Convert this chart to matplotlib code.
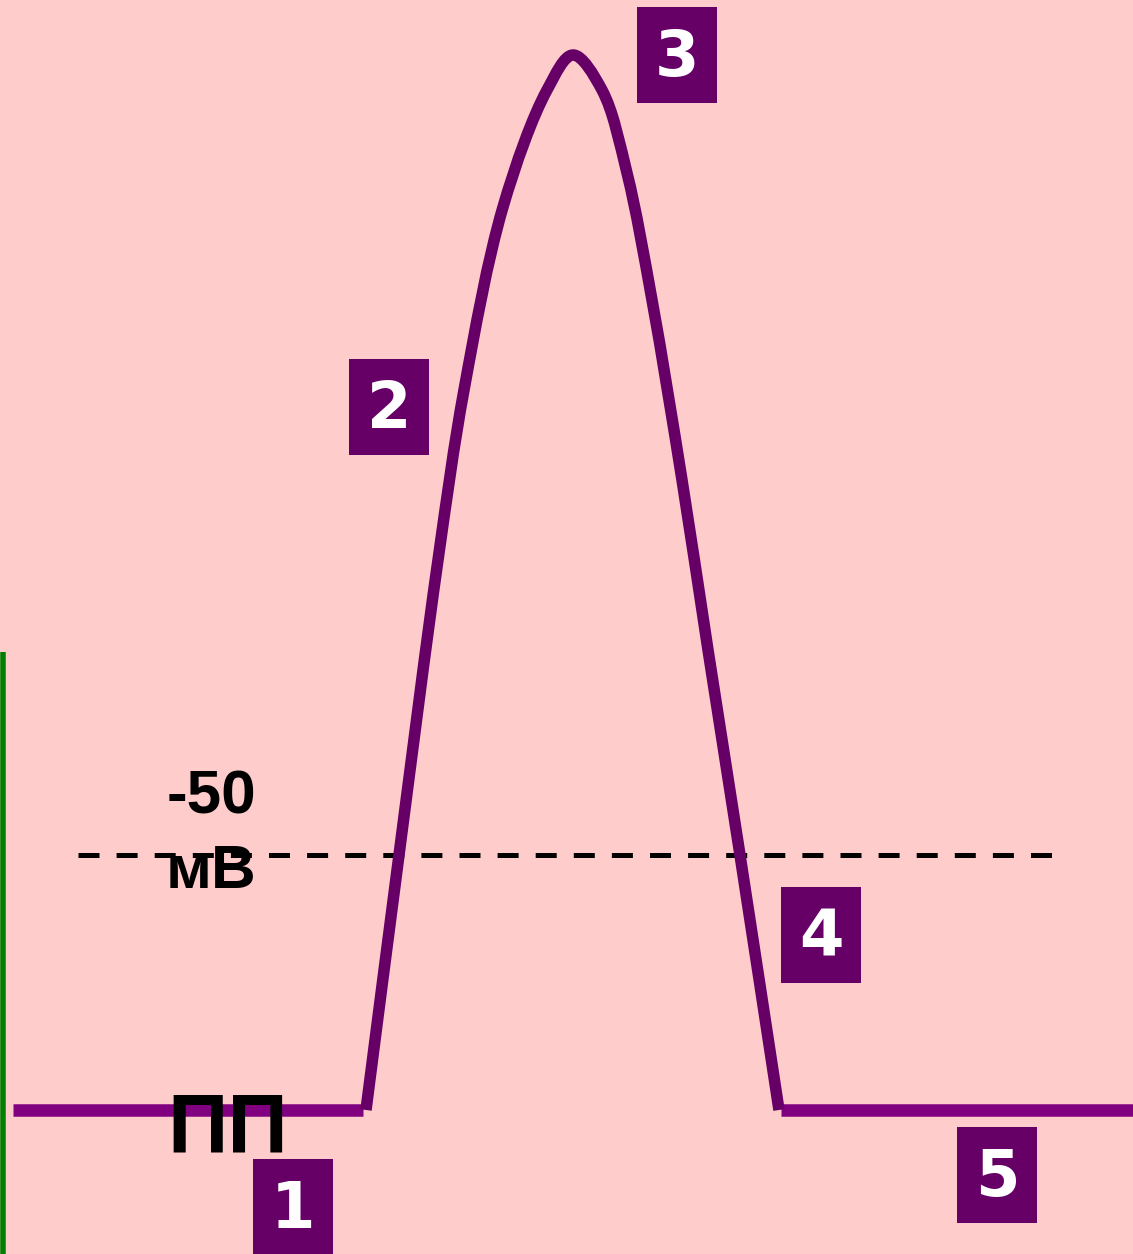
import matplotlib
matplotlib.use("Agg")
import matplotlib.pyplot as plt
import numpy as np
from matplotlib.patches import Rectangle, PathPatch
from matplotlib.path import Path

# Canvas units: horizontal = time axis, vertical = potential level (screen units, downwards)
W, H = 1133, 1254

# Resting potential level and threshold level
rest_level = 1110
threshold_level = 855

# Resting segments before and after the spike (time extents)
rest_before = [13, 363]
rest_after = [781, 1133]
threshold_span = [78, 1052]

# Action potential trace (rising phase, peak, falling phase)
spike_t = [366, 399, 438, 464, 503, 547, 573, 602, 627, 652, 682, 708, 740, 779]
spike_v = [1110, 855, 560, 390, 207, 90, 55, 90, 173, 300, 480, 650, 855, 1110]

# Phase markers: label and top-left corner of each tag
phase_labels = ["1", "2", "3", "4", "5"]
phase_x = [253, 349, 637, 781, 957]
phase_y = [1159, 359, 7, 887, 1127]

threshold_text = ["-50", "мВ"]
rest_text = "ПП"

BG = "#FFCCCC"
TRACE = "#660066"
BASE = "#800080"
TAG = "#660066"


def smooth_path(xs, ys, alpha=0.5):
    """Smooth curve through the given vertices (centripetal Catmull-Rom as cubic Bezier)."""
    p = np.column_stack([xs, ys]).astype(float)
    ext = np.vstack([2 * p[0] - p[1], p, 2 * p[-1] - p[-2]])
    verts = [p[0]]
    codes = [Path.MOVETO]
    for i in range(1, len(ext) - 2):
        p0, p1, p2, p3 = ext[i - 1], ext[i], ext[i + 1], ext[i + 2]
        d1 = np.linalg.norm(p1 - p0) ** alpha
        d2 = np.linalg.norm(p2 - p1) ** alpha
        d3 = np.linalg.norm(p3 - p2) ** alpha
        c1 = (d1 ** 2 * p2 - d2 ** 2 * p0 + (2 * d1 ** 2 + 3 * d1 * d2 + d2 ** 2) * p1) / (3 * d1 * (d1 + d2))
        c2 = (d3 ** 2 * p1 - d2 ** 2 * p3 + (2 * d3 ** 2 + 3 * d3 * d2 + d2 ** 2) * p2) / (3 * d3 * (d3 + d2))
        verts += [c1, c2, p2]
        codes += [Path.CURVE4] * 3
    return Path(np.array(verts), codes)


dpi = 100
fig = plt.figure(figsize=(W / dpi, H / dpi), dpi=dpi, facecolor=BG)
ax = fig.add_axes([0, 0, 1, 1])
ax.set_facecolor(BG)
ax.set_xlim(0, W)
ax.set_ylim(H, 0)
ax.axis("off")

px = 72.0 / dpi  # one pixel in points

# Left green border
ax.plot([2.5, 2.5], [652, H], color="#008000", lw=5.5 * px, solid_capstyle="butt", zorder=1)

# Resting potential lines
ax.plot(rest_before, [rest_level, rest_level], color=BASE, lw=12.5 * px,
        solid_capstyle="butt", zorder=2)
ax.plot(rest_after, [rest_level, rest_level], color=BASE, lw=12.5 * px,
        solid_capstyle="butt", zorder=2)

# Threshold dashed line
ax.plot(threshold_span, [threshold_level, threshold_level], color="black",
        lw=5 * px, linestyle=(0, (21 / 5, 17.1 / 5)), dash_capstyle="butt", zorder=2)

# Spike
ax.add_patch(PathPatch(smooth_path(spike_t, spike_v), facecolor="none",
                       edgecolor=TRACE, lw=11.5 * px, capstyle="butt",
                       joinstyle="round", zorder=3))

# Threshold and resting labels
ax.text(211, 813, threshold_text[0], ha="center", va="baseline",
        fontsize=62 * px, fontweight="bold", family="Liberation Sans", color="black", zorder=4)
ax.text(211, 888, threshold_text[1], ha="center", va="baseline",
        fontsize=62 * px, fontweight="bold", family="Liberation Sans", color="black", zorder=4)
ax.text(228, 1152, rest_text, ha="center", va="baseline",
        fontsize=84 * px, fontweight="bold", family="Liberation Sans", color="black", zorder=4)

# Phase tags
tag_w, tag_h = 80, 96
for lab, x0, y0 in zip(phase_labels, phase_x, phase_y):
    ax.add_patch(Rectangle((x0, y0), tag_w, tag_h, facecolor=TAG, edgecolor="none", zorder=5))
    ax.text(x0 + tag_w / 2, y0 + 69, lab, ha="center", va="baseline",
            fontsize=64 * px, fontweight="bold", family="DejaVu Sans", color="white", zorder=6)

fig.savefig("out.png", dpi=dpi, facecolor=BG)
